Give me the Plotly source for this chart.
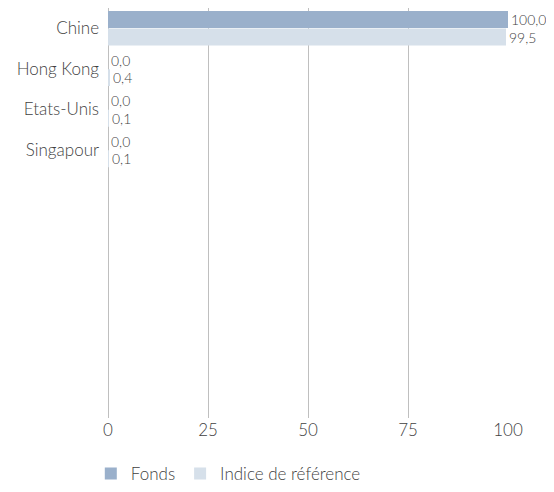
import plotly.graph_objects as go

categories = ["Chine", "Hong Kong", "Etats-Unis", "Singapour"]
fonds = [100.0, 0.0, 0.0, 0.0]
indice = [99.5, 0.4, 0.1, 0.1]
x_ticks = [0, 25, 50, 75, 100]

def fmt(v):
    return f"{v:.1f}".replace(".", ",")

TXT = "#3f3f3f"
FAM = "Lato, Open Sans, sans-serif"
fig = go.Figure()
fig.add_trace(go.Bar(
    y=categories, x=fonds, orientation="h", name="Fonds",
    marker=dict(color="#9AB0CB", line=dict(width=0)),
    text=[fmt(v) for v in fonds], textposition="outside",
    textfont=dict(size=14, color=TXT, family=FAM, weight=300), cliponaxis=False,
))
fig.add_trace(go.Bar(
    y=categories, x=indice, orientation="h", name="Indice de référence",
    marker=dict(color="#D6E0EA", line=dict(width=0)),
    text=[fmt(v) for v in indice], textposition="outside",
    textfont=dict(size=14, color=TXT, family=FAM, weight=300), cliponaxis=False,
))

fig.update_layout(
    width=546, height=484,
    margin=dict(l=100, r=46, t=0, b=67),
    paper_bgcolor="white", plot_bgcolor="white",
    font=dict(family=FAM, color=TXT, size=17, weight=300),
    barmode="group", bargap=0.14, bargroupgap=0.03,
    showlegend=True,
    legend=dict(orientation="h", x=-0.043, xanchor="left", y=-0.093, yanchor="top",
                font=dict(size=17, color=TXT, family=FAM, weight=300),
                traceorder="normal", itemwidth=30),
)
fig.update_xaxes(
    range=[0, 100], tickvals=x_ticks, ticktext=[str(t) for t in x_ticks],
    showgrid=True, gridcolor="#BFBFBF", gridwidth=1,
    zeroline=True, zerolinecolor="#BFBFBF", zerolinewidth=1,
    showline=False, ticks="",
    tickfont=dict(size=17, color=TXT, family=FAM, weight=300),
)
fig.update_yaxes(
    type="category", categoryorder="array", categoryarray=categories,
    range=[9.6, -0.5], showgrid=False, zeroline=False, showline=False,
    ticks="", ticklabelstandoff=8,
    tickfont=dict(size=17, color=TXT, family=FAM, weight=300),
)

fig.write_html("out.html")
